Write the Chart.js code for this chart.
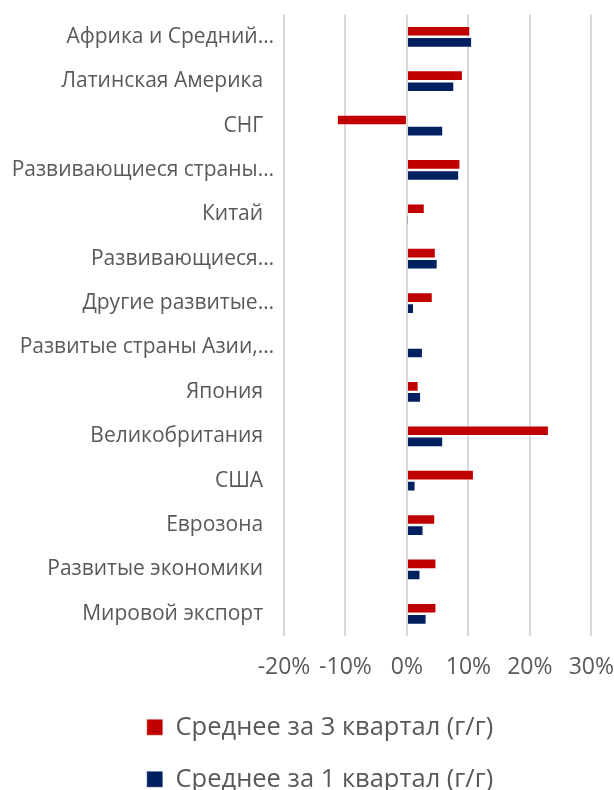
<!DOCTYPE html>
<html>
<head>
<meta charset="utf-8">
<script src="https://cdn.jsdelivr.net/npm/chart.js@4/dist/chart.umd.min.js"></script>
<style>
html,body{margin:0;padding:0;background:#fff;overflow:hidden;}
#wrap{width:614px;height:790px;position:relative;overflow:hidden;}
</style>
</head>
<body>
<div id="wrap"><canvas id="c" width="614" height="802"></canvas></div>
<script>
const categories = [
  "Африка и Средний…",
  "Латинская Америка  ",
  "СНГ  ",
  "Развивающиеся страны…",
  "Китай  ",
  "Развивающиеся…",
  "Другие развитые…",
  "Развитые страны Азии,…",
  "Япония  ",
  "Великобритания  ",
  "США  ",
  "Еврозона  ",
  "Развитые экономики  ",
  "Мировой экспорт  "
];
const seriesQ3Name = "Среднее за 3 квартал (г/г)";
const seriesQ1Name = "Среднее за 1 квартал (г/г)";
const seriesQ3 = [10.3, 9.1, -11.4, 8.7, 2.9, 4.7, 4.2, 0, 1.9, 23.1, 10.9, 4.6, 4.8, 4.8];
const seriesQ1 = [10.6, 7.7, 5.9, 8.5, 0.05, 5.0, 1.15, 2.6, 2.3, 5.9, 1.4, 2.7, 2.2, 3.2];
const xTicks = [-20, -10, 0, 10, 20, 30];

const FONT = "'Open Sans', Lato, sans-serif";
const GREY = "#595959";

const shiftLegend = {
  id: 'shiftLegend',
  afterLayout(chart) { if (chart.legend) { chart.legend.left += 26; } }
};

new Chart(document.getElementById('c'), {
  type: 'bar',
  data: {
    labels: categories,
    datasets: [
      { label: seriesQ3Name, data: seriesQ3, backgroundColor: '#C00000', borderColor: 'rgba(255,255,255,0.35)', borderWidth: 1, categoryPercentage: 0.5, barPercentage: 0.96 },
      { label: seriesQ1Name, data: seriesQ1, backgroundColor: '#002060', borderColor: 'rgba(255,255,255,0.35)', borderWidth: 1, categoryPercentage: 0.5, barPercentage: 0.96 }
    ]
  },
  plugins: [shiftLegend],
  options: {
    indexAxis: 'y',
    responsive: false,
    animation: false,
    layout: { padding: { top: 13, left: 0, right: 0, bottom: 0 } },
    plugins: {
      tooltip: { enabled: false },
      legend: {
        position: 'bottom',
        labels: {
          color: GREY,
          font: { family: FONT, size: 25.5 },
          boxWidth: 16, boxHeight: 16,
          padding: 26.5
        }
      }
    },
    scales: {
      x: {
        min: -20, max: 30,
        afterBuildTicks: (s) => { s.ticks = xTicks.map(v => ({ value: v })); },
        afterFit: (s) => { s.height = 52; },
        grid: { color: '#d9d9d9', lineWidth: 2, drawTicks: true, tickLength: 18, tickColor: 'rgba(0,0,0,0)' },
        border: { display: false },
        ticks: {
          color: GREY,
          font: { family: FONT, size: 23 },
          padding: 0,
          maxRotation: 0,
          callback: (v) => v + '%'
        }
      },
      y: {
        grid: { display: false },
        border: { display: false },
        afterFit: (s) => { s.width = 284; },
        ticks: {
          color: GREY,
          font: { family: FONT, size: 21 },
          padding: 2,
          autoSkip: false
        }
      }
    }
  }
});
</script>
</body>
</html>
